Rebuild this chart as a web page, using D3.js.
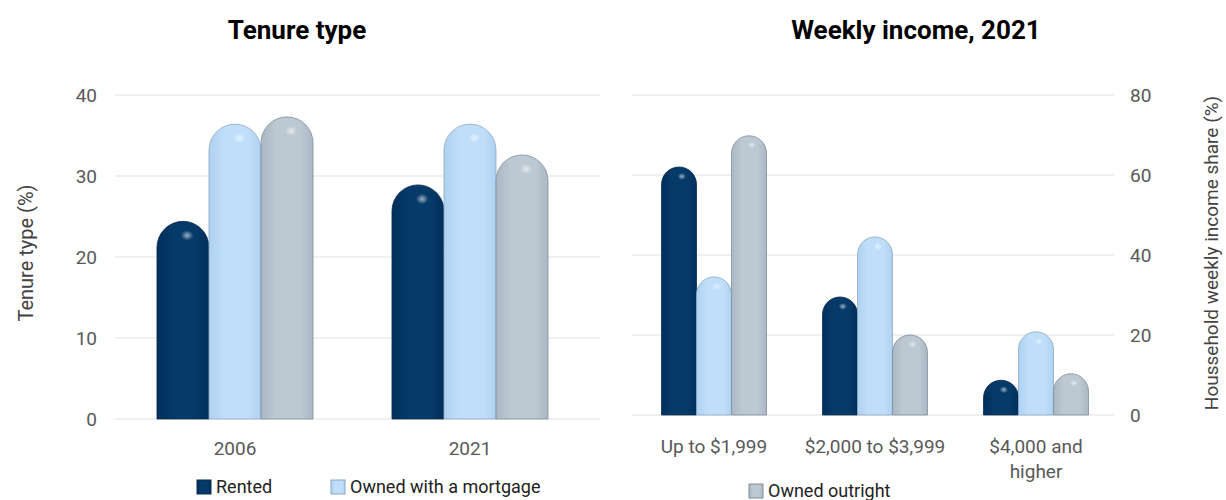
<!DOCTYPE html>
<html>
<head>
<meta charset="utf-8">
<script src="https://cdn.jsdelivr.net/npm/d3@7"></script>
<style>
	body { margin: 0; background: #fff; }
	svg { font-family: Roboto, "Liberation Sans", sans-serif; }
</style>
</head>
<body>
<div id="chart"></div>
<script>
// data
const seriesNames = ["Rented", "Owned with a mortgage", "Owned outright"];
const tenureYears = ["2006", "2021"];
const tenureRented = [24.4, 28.9];
const tenureMortgage = [36.4, 36.4];
const tenureOutright = [37.3, 32.6];
const tenureTicks = [0, 10, 20, 30, 40];

const incomeBands = ["Up to $1,999", "$2,000 to $3,999", "$4,000 and higher"];
const incomeRented = [62, 29.5, 8.7];
const incomeMortgage = [34.5, 44.5, 20.8];
const incomeOutright = [69.8, 20, 10.3];
const incomeTicks = [0, 20, 40, 60, 80];

const colors = {
	"Rented": { mid: "#063a69", edge: "#002f5a", stroke: "#0a2c4f" },
	"Owned with a mortgage": { mid: "#bfdefa", edge: "#afd2f1", stroke: "#8ea7c0" },
	"Owned outright": { mid: "#bcc8d2", edge: "#abb8c4", stroke: "#7f8d9a" }
};

const width = 1226, height = 500;

const svg = d3.select("#chart").append("svg")
	.attr("width", width)
	.attr("height", height);

const defs = svg.append("defs");
seriesNames.forEach((name, i) => {
	const c = colors[name];
	const g = defs.append("linearGradient").attr("id", "grad" + i)
		.attr("x1", "0%").attr("x2", "100%").attr("y1", "0%").attr("y2", "0%");
	g.append("stop").attr("offset", "0%").attr("stop-color", c.edge);
	g.append("stop").attr("offset", "30%").attr("stop-color", c.mid);
	g.append("stop").attr("offset", "75%").attr("stop-color", c.mid);
	g.append("stop").attr("offset", "100%").attr("stop-color", c.edge);
});
const hl = defs.append("radialGradient").attr("id", "hl");
hl.append("stop").attr("offset", "0%").attr("stop-color", "#fff").attr("stop-opacity", 0.6);
hl.append("stop").attr("offset", "100%").attr("stop-color", "#fff").attr("stop-opacity", 0);

function capsule(x, w, yTop, yBase) {
	const r = w / 2;
	const top = Math.min(yTop + r, yBase);
	return `M${x},${yBase} L${x},${top} A${r},${r} 0 0 1 ${x + w},${top} L${x + w},${yBase} Z`;
}

function drawPanel(opts) {
	const g = svg.append("g");
	const y = d3.scaleLinear().domain([0, opts.max]).range(opts.yRange);
	const x0 = d3.scaleBand().domain(opts.cats).range(opts.xRange).paddingInner(opts.pad).paddingOuter(opts.pad / 2);
	const x1 = d3.scaleBand().domain(seriesNames).range([0, x0.bandwidth()]);

	// grid
	g.selectAll(".grid").data(opts.ticks).enter().append("line")
		.attr("x1", opts.gridX[0]).attr("x2", opts.gridX[1])
		.attr("y1", (d) => y(d)).attr("y2", (d) => y(d))
		.attr("stroke", "#ebebeb").attr("stroke-width", 1.5);

	// tick labels
	g.selectAll(".tick").data(opts.ticks).enter().append("text")
		.attr("x", opts.tickX)
		.attr("y", (d) => y(d))
		.attr("dy", "0.35em")
		.attr("text-anchor", opts.tickAnchor)
		.style("font-size", "19px")
		.style("fill", "#595959")
		.text((d) => d);

	const rows = opts.cats.map((c, i) => ({ cat: c, values: opts.series.map((s) => s[i]) }));
	const groups = g.selectAll(".grp").data(rows).enter().append("g")
		.attr("transform", (d) => `translate(${x0(d.cat)},0)`);

	const bars = groups.selectAll(".bar")
		.data((d) => d.values.map((v, j) => ({ name: seriesNames[j], v, j })))
		.enter().append("g");

	bars.append("path")
		.attr("d", (d) => capsule(x1(d.name), x1.bandwidth(), y(d.v), y(0)))
		.attr("fill", (d) => `url(#grad${d.j})`)
		.attr("stroke", (d) => colors[d.name].stroke)
		.attr("stroke-width", 0.8);

	bars.append("ellipse")
		.attr("cx", (d) => x1(d.name) + x1.bandwidth() * 0.58)
		.attr("cy", (d) => y(d.v) + x1.bandwidth() * 0.27)
		.attr("rx", x1.bandwidth() * 0.12)
		.attr("ry", x1.bandwidth() * 0.1)
		.attr("fill", "url(#hl)");

	// category labels
	const lab = g.selectAll(".xlab").data(opts.labels).enter().append("text")
		.attr("x", (d, i) => x0(opts.cats[i]) + x0.bandwidth() / 2)
		.attr("y", opts.labelY)
		.attr("text-anchor", "middle")
		.style("font-size", "19px")
		.style("fill", "#595959");
	lab.selectAll("tspan").data((d) => d).enter().append("tspan")
		.attr("x", function () { return d3.select(this.parentNode).attr("x"); })
		.attr("dy", (d, i) => (i === 0 ? 0 : 25))
		.text((d) => d);

	// title
	svg.append("text")
		.attr("x", opts.titleX).attr("y", 39)
		.attr("text-anchor", "middle")
		.style("font-size", "26px").style("font-weight", "bold")
		.style("fill", "#000")
		.text(opts.title);

	// axis title
	svg.append("text")
		.attr("transform", `translate(${opts.axisTitleX},253) rotate(-90)`)
		.attr("text-anchor", "middle")
		.attr("dy", "0.35em")
		.style("font-size", opts.axisTitleSize)
		.style("fill", "#444")
		.text(opts.axisTitle);
}

drawPanel({
	cats: tenureYears,
	labels: tenureYears.map((d) => [d]),
	series: [tenureRented, tenureMortgage, tenureOutright],
	max: 40, ticks: tenureTicks,
	yRange: [419, 95], xRange: [117.5, 587.5], pad: 0.336,
	gridX: [115, 600], tickX: 97, tickAnchor: "end", labelY: 455,
	title: "Tenure type", titleX: 297,
	axisTitle: "Tenure type (%)", axisTitleX: 26, axisTitleSize: "20px"
});

drawPanel({
	cats: incomeBands,
	labels: [["Up to $1,999"], ["$2,000 to $3,999"], ["$4,000 and", "higher"]],
	series: [incomeRented, incomeMortgage, incomeOutright],
	max: 80, ticks: incomeTicks,
	yRange: [415, 95], xRange: [633.5, 1116.5], pad: 0.348,
	gridX: [632, 1115], tickX: 1130, tickAnchor: "start", labelY: 453,
	title: "Weekly income, 2021", titleX: 916,
	axisTitle: "Houssehold weekly income share (%)", axisTitleX: 1211, axisTitleSize: "19px"
});

// legend
const legendItems = [
	{ name: "Rented", x: 197, y: 480 },
	{ name: "Owned with a mortgage", x: 331, y: 480 },
	{ name: "Owned outright", x: 749, y: 484 }
];
const leg = svg.selectAll(".leg").data(legendItems).enter().append("g")
	.attr("transform", (d) => `translate(${d.x},${d.y})`);
leg.append("rect")
	.attr("width", 14).attr("height", 14)
	.attr("fill", (d) => `url(#grad${seriesNames.indexOf(d.name)})`)
	.attr("stroke", (d) => colors[d.name].stroke);
leg.append("text")
	.attr("x", 19).attr("y", 7).attr("dy", "0.35em")
	.style("font-size", "18px").style("fill", "#222")
	.text((d) => d.name);
</script>
</body>
</html>
